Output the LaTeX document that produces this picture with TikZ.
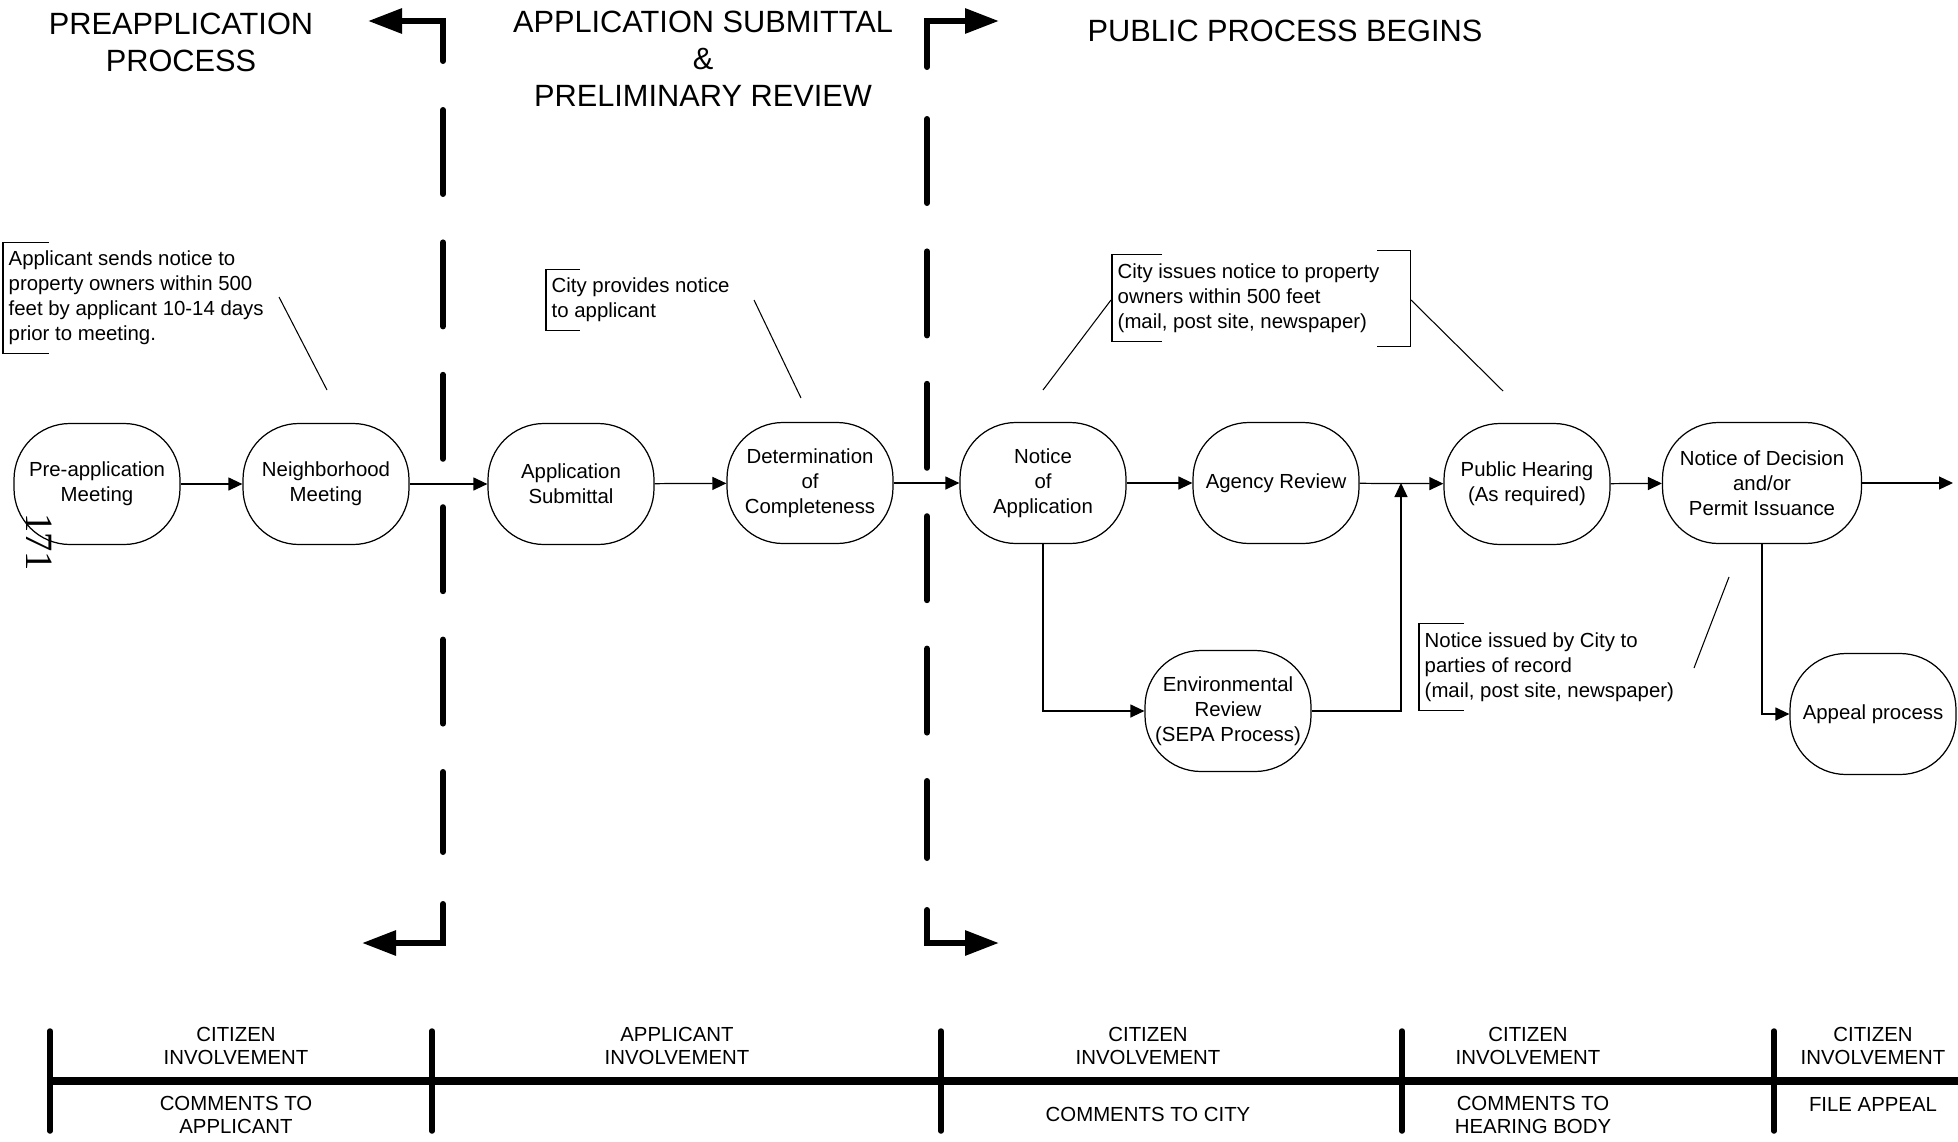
\documentclass[tikz,border=0pt]{standalone}
\usepackage{fontspec}
\setmainfont{Liberation Sans}
\newfontfamily\pagefont{Liberation Serif}
\usetikzlibrary{arrows.meta}

\begin{document}
\begin{tikzpicture}[
  x=0.1mm, y=-0.1mm,
  proc/.style={rectangle, rounded corners=5.6mm, draw, line width=0.35pt, minimum width=16.6mm, minimum height=12.1mm, align=center, inner sep=0.5mm},
  flow/.style={-{Triangle[length=1.4mm,width=1.3mm]}, line width=0.35pt},
  leader/.style={line width=0.3pt},
  note/.style={align=left, anchor=west, inner xsep=0.5mm, inner ysep=0.8mm},
  divider/.style={line width=0.6mm, line cap=round, dash pattern=on 8.4mm off 4.84mm},
  bigarrow/.style={-{Triangle[length=3.4mm,width=2.4mm]}, line width=0.6mm, line cap=round},
  phase/.style={font=\fontsize{8.75}{10.5}\selectfont, align=center},
  tag/.style={font=\fontsize{5.8}{6.8}\selectfont, align=center},
  every node/.style={font=\fontsize{5.8}{7.1}\selectfont}
]
\useasboundingbox (0,0) rectangle (1958,1142);

% Phase titles
\node[phase] (P1) at (181,42) {PREAPPLICATION\\PROCESS};
\node[phase] (P2) at (703,59) {APPLICATION SUBMITTAL\\\&\\PRELIMINARY REVIEW};
\node[phase] (P3) at (1285,31) {PUBLIC PROCESS BEGINS};

% Phase dividers
\foreach \x/\a/\b in {443/110/852, 927/119/858}
  \draw[divider] (\x,\a) -- (\x,\b);
\draw[bigarrow] (443,61) -- (443,21) -- (368,21);
\draw[bigarrow] (443,904) -- (443,943) -- (362,943);
\draw[bigarrow] (927,67) -- (927,21) -- (999,21);
\draw[bigarrow] (927,910) -- (927,943) -- (999,943);

% Process steps
\node[proc] (pre) at (97,484) {Pre-application\\Meeting};
\node[proc] (nbr) at (326,484) {Neighborhood\\Meeting};
\node[proc] (sub) at (571,484) {Application\\Submittal};
\node[proc] (det) at (810,483) {Determination\\of\\Completeness};
\node[proc] (noa) at (1043,483) {Notice\\of\\Application};
\node[proc] (agy) at (1276,483) {Agency Review};
\node[proc] (hear) at (1527,484) {Public Hearing\\(As required)};
\node[proc, minimum width=19.9mm] (dec) at (1762,483) {Notice of Decision\\and/or\\Permit Issuance};
\node[proc] (env) at (1228,711) {Environmental\\Review\\(SEPA Process)};
\node[proc] (app) at (1873,714) {Appeal process};

\coordinate (exit) at (1953,483);
\coordinate (join) at (1401,483);

% Flow arrows
\foreach \a/\b in {pre/nbr, nbr/sub, sub/det, det/noa, noa/agy, agy/hear, hear/dec}
  \draw[flow] (\a) -- (\b);
\draw[flow] (dec) -- (exit);
\draw[flow] (noa) |- (env);
\draw[flow] (env) -| (join);
\draw[flow] (dec) |- (app);

% Notices
\node[note] (N1) at (3,298) {Applicant sends notice to\\property owners within 500\\feet by applicant 10-14 days\\prior to meeting.};
\node[note] (N2) at (546,300) {City provides notice\\to applicant};
\node[note] (N3) at (1112,298) {City issues notice to property\\owners within 500 feet\\(mail, post site, newspaper)};
\node[note] (N4) at (1419,667) {Notice issued by City to\\parties of record\\(mail, post site, newspaper)};

\foreach \n/\w in {N1/4.6mm, N2/3.4mm, N3/5mm, N4/4.5mm}
  \draw[leader] ([xshift=\w]\n.north west) -- (\n.north west) -- (\n.south west) -- ([xshift=\w]\n.south west);
\draw[leader] ([xshift=2.5mm,yshift=0.4mm]N3.north east) ++(-3.3mm,0) -- ++(3.3mm,0) -- ([xshift=2.5mm,yshift=-0.5mm]N3.south east) -- ++(-3.3mm,0);

\coordinate (L1a) at (279,297); \coordinate (L1b) at (327,390);
\coordinate (L2a) at (754,300); \coordinate (L2b) at (801,398);
\coordinate (L3a) at (1111,300); \coordinate (L3b) at (1043,390);
\coordinate (L4a) at (1411,300); \coordinate (L4b) at (1503,391);
\coordinate (L5a) at (1729,577); \coordinate (L5b) at (1694,668);
\foreach \i in {1,...,5}
  \draw[leader] (L\i a) -- (L\i b);

% Involvement timeline
\draw[line width=0.8mm] (50,1081) -- (1958,1081);
\foreach \x in {50,432,941,1402,1774}
  \draw[line width=0.55mm, line cap=round] (\x,1031) -- (\x,1131);

\node[tag] (C1) at (236,1046) {CITIZEN\\INVOLVEMENT};
\node[tag] (C2) at (677,1046) {APPLICANT\\INVOLVEMENT};
\node[tag] (C3) at (1148,1046) {CITIZEN\\INVOLVEMENT};
\node[tag] (C4) at (1528,1046) {CITIZEN\\INVOLVEMENT};
\node[tag] (C5) at (1873,1046) {CITIZEN\\INVOLVEMENT};
\node[tag] (M1) at (236,1115) {COMMENTS TO\\APPLICANT};
\node[tag] (M3) at (1148,1114) {COMMENTS TO CITY};
\node[tag] (M4) at (1533,1115) {COMMENTS TO\\HEARING BODY};
\node[tag] (M5) at (1873,1104) {FILE APPEAL};

% Page number
\node[rotate=-90, font=\pagefont\fontsize{11}{13}\selectfont] (pg) at (39,542) {171};

\end{tikzpicture}
\end{document}
